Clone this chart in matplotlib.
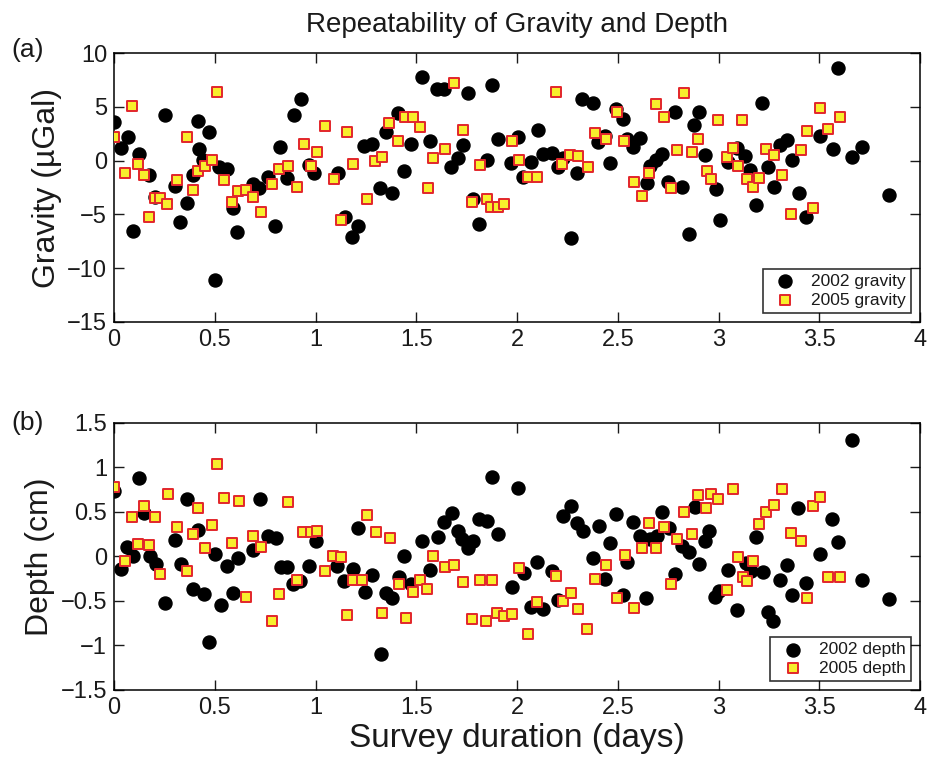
import matplotlib
matplotlib.use("Agg")
import matplotlib.pyplot as plt

plt.rcParams['font.family'] = ['Liberation Sans', 'DejaVu Sans']
plt.rcParams['text.color'] = '#1a1a1a'
plt.rcParams['axes.labelcolor'] = '#1a1a1a'
plt.rcParams['xtick.color'] = '#1a1a1a'
plt.rcParams['ytick.color'] = '#1a1a1a'

# gravity, 2002 survey (black circles)
g02_x = [0.0, 0.033, 0.071, 0.096, 0.126, 0.175, 0.203, 0.253, 0.303, 0.328, 0.361, 0.39, 0.415, 0.423,
         0.443, 0.473, 0.501, 0.523, 0.559, 0.589, 0.612, 0.688, 0.721, 0.766, 0.799, 0.824, 0.857, 0.893,
         0.926, 0.969, 0.99, 1.113, 1.146, 1.183, 1.209, 1.242, 1.279, 1.32, 1.348, 1.381, 1.411, 1.441,
         1.474, 1.53, 1.568, 1.601, 1.639, 1.673, 1.706, 1.731, 1.755, 1.783, 1.811, 1.85, 1.877, 1.904,
         1.97, 2.007, 2.03, 2.068, 2.103, 2.131, 2.172, 2.202, 2.23, 2.268, 2.296, 2.324, 2.379, 2.404,
         2.437, 2.462, 2.491, 2.524, 2.548, 2.577, 2.61, 2.643, 2.66, 2.69, 2.718, 2.751, 2.784, 2.817,
         2.854, 2.878, 2.905, 2.933, 2.988, 3.007, 3.045, 3.09, 3.132, 3.156, 3.185, 3.218, 3.247, 3.275,
         3.305, 3.338, 3.363, 3.4, 3.434, 3.504, 3.567, 3.595, 3.661, 3.711, 3.846]
g02_y = [3.62, 1.14, 2.16, -6.54, 0.61, -1.37, -3.35, 4.24, -2.36, -5.73, -3.91, -1.34, 3.68, 1.05,
         0.06, 2.69, -11.1, -0.57, -0.81, -4.43, -6.6, -2.17, -2.58, -1.5, -6.05, 1.29, -1.65, 4.24,
         5.72, -0.41, -1.18, -1.18, -5.27, -7.07, -6.05, 1.36, 1.51, -2.58, 2.69, -3.04, 4.39, -0.94,
         1.51, 7.74, 1.82, 6.63, 6.69, -0.57, 0.27, 1.45, 6.31, -3.6, -5.92, 0.06, 7.03, 2.01,
         -0.26, 2.16, -1.55, -0.16, 2.84, 0.58, 0.68, -0.62, 0.21, -7.22, -1.12, 5.72, 5.38, 1.76,
         2.29, -0.25, 4.77, 3.84, 2.01, 1.24, 2.07, -2.05, -0.5, 0.06, 0.61, -1.96, 4.55, -2.48,
         -6.82, 3.31, 4.55, 0.52, -2.67, -5.52, -0.1, 1.14, 0.46, -0.87, -4.13, 5.38, -0.57, -2.42,
         1.45, 1.92, 0.06, -2.98, -5.21, 2.29, 1.08, 8.58, 0.31, 1.29, -3.22]

# gravity, 2005 survey (yellow squares)
g05_x = [0.0, 0.055, 0.091, 0.121, 0.149, 0.175, 0.203, 0.228, 0.265, 0.311, 0.361, 0.394, 0.418, 0.452,
         0.485, 0.51, 0.546, 0.584, 0.617, 0.653, 0.688, 0.728, 0.784, 0.82, 0.862, 0.907, 0.943, 0.976,
         1.009, 1.047, 1.092, 1.127, 1.155, 1.188, 1.254, 1.295, 1.332, 1.366, 1.411, 1.444, 1.485, 1.519,
         1.557, 1.585, 1.643, 1.689, 1.734, 1.778, 1.816, 1.85, 1.871, 1.904, 1.937, 1.973, 2.01, 2.056,
         2.098, 2.194, 2.225, 2.263, 2.304, 2.351, 2.387, 2.44, 2.495, 2.533, 2.581, 2.619, 2.657, 2.688,
         2.73, 2.764, 2.793, 2.829, 2.867, 2.9, 2.941, 2.963, 2.999, 3.04, 3.073, 3.095, 3.118, 3.143,
         3.173, 3.203, 3.236, 3.277, 3.314, 3.36, 3.408, 3.438, 3.471, 3.504, 3.542, 3.605]
g05_y = [2.22, -1.18, 5.07, -0.32, -1.34, -5.27, -3.5, -3.45, -4.06, -1.8, 2.16, -2.73, -0.97, -0.5,
         0.06, 6.35, -1.8, -3.88, -2.8, -2.73, -3.35, -4.8, -2.17, -0.81, -0.5, -2.42, 1.54, -0.5,
         0.77, 3.22, -1.74, -5.52, 2.69, -0.35, -3.54, 0.0, 0.36, 3.52, 1.85, 4.08, 4.08, 3.15,
         -2.58, 0.27, 1.08, 7.18, 2.84, -3.82, -0.45, -3.6, -4.28, -4.28, -4.06, 1.82, 0.06, -1.55,
         -1.5, 6.41, -0.32, 0.52, 0.46, -0.62, 2.6, 2.01, 4.49, 1.82, -1.96, -3.26, -1.18, 5.26,
         4.02, -2.52, 0.99, 6.31, 0.77, 1.98, -0.94, -1.74, 3.77, 0.31, 1.14, -0.5, 3.77, -1.74,
         -2.48, -1.65, 1.05, 0.52, -1.34, -4.99, 0.99, 2.75, -4.43, 4.92, 2.94, 4.02]

# depth, 2002 survey
d02_x = [0.0, 0.033, 0.066, 0.096, 0.126, 0.149, 0.179, 0.208, 0.253, 0.303, 0.331, 0.361, 0.394, 0.418,
         0.447, 0.473, 0.501, 0.53, 0.559, 0.589, 0.614, 0.688, 0.725, 0.766, 0.804, 0.829, 0.86, 0.89,
         0.923, 0.969, 1.0, 1.109, 1.143, 1.185, 1.213, 1.246, 1.279, 1.325, 1.348, 1.381, 1.414, 1.441,
         1.474, 1.53, 1.568, 1.606, 1.639, 1.676, 1.709, 1.729, 1.758, 1.783, 1.811, 1.85, 1.877, 1.907,
         1.974, 2.007, 2.035, 2.068, 2.101, 2.131, 2.172, 2.202, 2.228, 2.268, 2.296, 2.326, 2.379, 2.408,
         2.437, 2.462, 2.491, 2.524, 2.548, 2.577, 2.61, 2.64, 2.66, 2.693, 2.718, 2.756, 2.784, 2.817,
         2.854, 2.881, 2.905, 2.933, 2.955, 2.983, 3.004, 3.045, 3.09, 3.135, 3.161, 3.185, 3.219, 3.244,
         3.272, 3.305, 3.338, 3.363, 3.396, 3.434, 3.504, 3.565, 3.595, 3.661, 3.711, 3.846]
d02_y = [0.73, -0.14, 0.11, 0.01, 0.88, 0.49, 0.0, -0.08, -0.52, 0.19, -0.09, 0.64, -0.37, 0.3,
         -0.42, -0.96, 0.03, -0.55, -0.11, -0.41, -0.02, 0.07, 0.65, 0.23, 0.21, -0.12, -0.12, -0.31,
         -0.28, -0.11, 0.17, -0.11, -0.28, -0.14, 0.32, -0.4, -0.21, -1.1, -0.41, -0.47, -0.23, 0.01,
         -0.31, 0.17, -0.15, 0.22, 0.39, 0.49, 0.29, 0.2, 0.1, 0.17, 0.42, 0.4, 0.89, 0.25,
         -0.34, 0.77, -0.19, -0.57, -0.06, -0.59, -0.16, -0.49, 0.46, 0.57, 0.38, 0.29, -0.02, 0.34,
         -0.25, 0.15, 0.48, -0.43, -0.06, 0.39, 0.23, -0.47, 0.2, 0.23, 0.5, 0.32, -0.2, 0.12,
         0.05, 0.56, -0.08, 0.17, 0.29, -0.45, -0.39, -0.15, -0.6, -0.07, -0.16, 0.22, -0.18, -0.62,
         -0.73, -0.26, -0.1, -0.43, 0.54, -0.3, 0.03, 0.42, 0.16, 1.31, -0.27, -0.48]

# depth, 2005 survey
d05_x = [0.0, 0.055, 0.091, 0.121, 0.149, 0.175, 0.203, 0.228, 0.266, 0.311, 0.361, 0.394, 0.418, 0.452,
         0.485, 0.51, 0.546, 0.584, 0.622, 0.653, 0.688, 0.728, 0.783, 0.82, 0.865, 0.907, 0.94, 0.976,
         1.009, 1.047, 1.088, 1.127, 1.158, 1.188, 1.233, 1.254, 1.299, 1.332, 1.37, 1.414, 1.449, 1.482,
         1.519, 1.555, 1.585, 1.643, 1.687, 1.734, 1.778, 1.816, 1.846, 1.875, 1.902, 1.935, 1.974, 2.012,
         2.056, 2.098, 2.194, 2.227, 2.266, 2.304, 2.349, 2.387, 2.44, 2.498, 2.536, 2.582, 2.619, 2.657,
         2.688, 2.73, 2.764, 2.793, 2.829, 2.867, 2.9, 2.938, 2.963, 2.999, 3.04, 3.073, 3.095, 3.12,
         3.143, 3.173, 3.203, 3.236, 3.275, 3.314, 3.36, 3.408, 3.438, 3.467, 3.504, 3.542, 3.605]
d05_y = [0.78, -0.05, 0.44, 0.14, 0.57, 0.13, 0.44, -0.2, 0.7, 0.33, -0.16, 0.25, 0.54, 0.1,
         0.35, 1.04, 0.66, 0.15, 0.62, -0.45, 0.23, 0.11, -0.73, -0.42, 0.61, -0.26, 0.28, 0.27,
         0.29, -0.16, 0.0, -0.01, -0.66, -0.26, -0.27, 0.47, 0.27, -0.63, 0.21, -0.31, -0.69, -0.4,
         -0.26, -0.37, 0.0, -0.12, -0.1, -0.29, -0.7, -0.26, -0.72, -0.27, -0.63, -0.67, -0.65, -0.13,
         -0.87, -0.51, -0.22, -0.5, -0.41, -0.59, -0.82, -0.25, -0.1, -0.47, 0.02, -0.58, 0.1, 0.38,
         0.1, 0.33, -0.31, 0.2, 0.5, 0.25, 0.69, 0.54, 0.7, 0.64, -0.38, 0.76, -0.01, -0.23,
         -0.28, -0.05, 0.37, 0.5, 0.58, 0.76, 0.26, 0.17, -0.47, 0.57, 0.67, -0.23, -0.23]

xticks = [0, 0.5, 1, 1.5, 2, 2.5, 3, 3.5, 4]
xticklabels = ['0', '0.5', '1', '1.5', '2', '2.5', '3', '3.5', '4']

sq_face = '#f8ef2c'
sq_edge = '#e2262b'

fig = plt.figure(figsize=(9.27, 7.63), dpi=100)
ax1 = fig.add_axes([0.123, 0.578, 0.8695, 0.3525])
ax2 = fig.add_axes([0.123, 0.0957, 0.8695, 0.350])

for ax in (ax1, ax2):
    ax.set_xlim(0, 4)
    ax.set_xticks(xticks)
    ax.set_xticklabels(xticklabels)
    ax.tick_params(direction='in', length=7, width=1, top=True, right=True, labelsize=17, pad=5)
    for s in ax.spines.values():
        s.set_linewidth(1.1)

ax1.scatter(g02_x, g02_y, s=88, c='black', marker='o', label='2002 gravity', zorder=2)
ax1.scatter(g05_x, g05_y, s=52, c=sq_face, edgecolors=sq_edge, linewidths=1.4, marker='s',
            label='2005 gravity', zorder=3)
ax1.set_ylim(-15, 10)
ax1.set_yticks([-15, -10, -5, 0, 5, 10])
ax1.set_ylabel('Gravity (\u00b5Gal)', fontsize=23, labelpad=4)
ax1.set_title('Repeatability of Gravity and Depth', fontsize=20, pad=15)

ax2.scatter(d02_x, d02_y, s=88, c='black', marker='o', label='2002 depth', zorder=2)
ax2.scatter(d05_x, d05_y, s=52, c=sq_face, edgecolors=sq_edge, linewidths=1.4, marker='s',
            label='2005 depth', zorder=3)
ax2.set_ylim(-1.5, 1.5)
ax2.set_yticks([-1.5, -1, -0.5, 0, 0.5, 1, 1.5])
ax2.set_yticklabels(['\u22121.5', '\u22121', '\u22120.5', '0', '0.5', '1', '1.5'])
ax2.set_ylabel('Depth (cm)', fontsize=23, labelpad=4)
ax2.set_xlabel('Survey duration (days)', fontsize=24, labelpad=3)

for ax in (ax1, ax2):
    leg = ax.legend(loc='lower right', bbox_to_anchor=(0.989, 0.034), borderaxespad=0,
                    fontsize=12.5, frameon=True, fancybox=False, labelspacing=0.2,
                    handletextpad=0.5, borderpad=0.3, markerscale=1.0)
    leg.get_frame().set_edgecolor('black')
    leg.get_frame().set_linewidth(1.2)

fig.text(0.03, 0.934, '(a)', fontsize=19, ha='center', va='center')
fig.text(0.03, 0.446, '(b)', fontsize=19, ha='center', va='center')

fig.savefig('out.png', dpi=100)
